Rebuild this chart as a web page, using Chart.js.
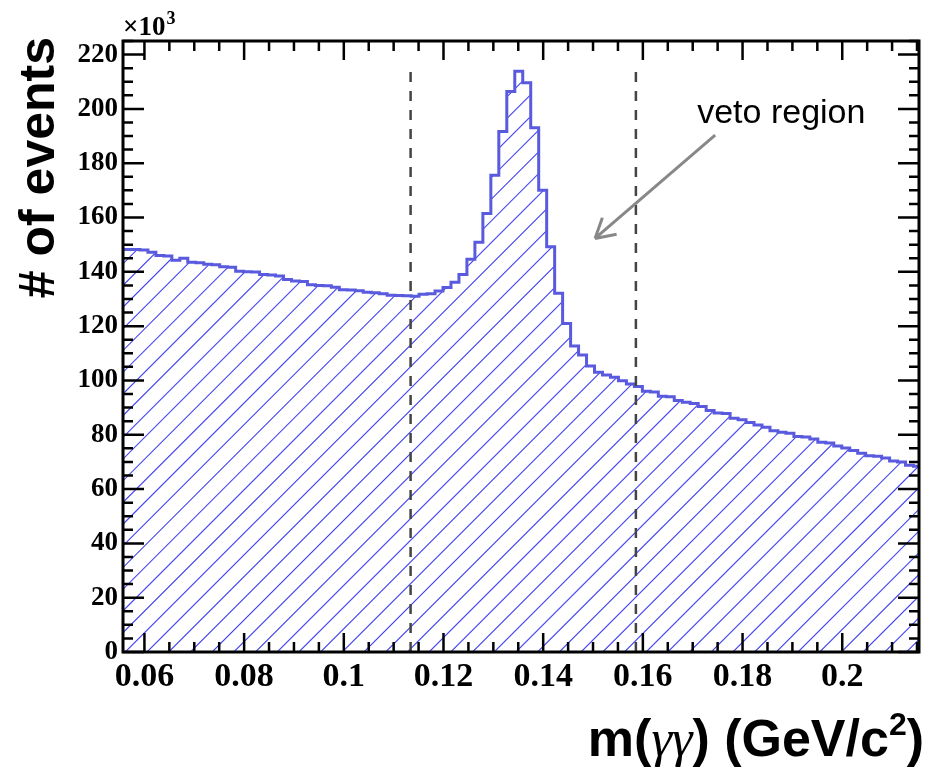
<!DOCTYPE html>
<html>
<head>
<meta charset="utf-8">
<script src="https://cdn.jsdelivr.net/npm/chart.js@4.4.0/dist/chart.umd.min.js"></script>
<style>
body { margin: 0; background: #fff; }
#wrap { width: 926px; height: 768px; }
</style>
</head>
<body>
<div id="wrap"><canvas id="massChart"></canvas></div>
<script>
// histogram binning in m(gg), GeV/c^2
const binStart = 0.0559;
const binWidth = 0.0016;
// entries per bin, units of 10^3
const counts = [
  148.2, 148.2, 148.0, 147.2, 146.0, 145.8, 144.3, 145.0, 143.5, 143.3,
  142.8, 142.6, 141.9, 141.7, 140.2, 140.0, 139.9, 139.0, 138.8, 138.5,
  137.2, 136.6, 136.4, 135.2, 135.0, 134.9, 134.3, 133.4, 133.3, 133.0,
  132.5, 132.3, 131.9, 131.4, 131.3, 131.2, 131.0, 131.7, 131.9, 132.9,
  134.2, 136.2, 139.0, 144.6, 150.9, 161.5, 175.6, 191.7, 206.4, 213.9,
  209.6, 193.1, 170.0, 149.2, 132.1, 121.0, 112.7, 109.4, 105.3, 103.0,
  102.0, 101.2, 99.9, 98.7, 97.8, 96.0, 95.7, 94.2, 94.0, 92.6,
  92.0, 91.5, 90.4, 88.9, 88.0, 87.8, 86.1, 85.5, 84.5, 83.6,
  82.8, 81.5, 80.9, 80.6, 79.4, 79.2, 78.4, 77.2, 77.0, 75.9,
  75.1, 74.2, 73.2, 72.3, 72.1, 71.4, 70.3, 70.0, 68.8, 68.4
];
const vetoEdges = [0.1134, 0.1586];
const vetoTop = 214;
const xTicks = [0.06, 0.08, 0.1, 0.12, 0.14, 0.16, 0.18, 0.2];
const yTicks = [0, 20, 40, 60, 80, 100, 120, 140, 160, 180, 200, 220];
const vetoLabel = 'veto region';

// step outline: one point per bin low edge plus the last high edge
const histPoints = counts.map((c, i) => ({ x: binStart + i * binWidth, y: c }));
histPoints.push({ x: binStart + counts.length * binWidth, y: counts[counts.length - 1] });

const serif = "'Liberation Serif', 'Times New Roman', serif";
const sans = "'Liberation Sans', Arial, Helvetica, sans-serif";
const histColor = '#5a5ade';

// ROOT style hatch (fill style 3004 like) under the histogram
const hatchFill = {
  id: 'hatchFill',
  beforeDatasetsDraw(chart) {
    const { ctx, chartArea: a, scales: { x, y } } = chart;
    ctx.save();
    ctx.beginPath();
    ctx.rect(a.left, a.top, a.right - a.left, a.bottom - a.top);
    ctx.clip();
    ctx.beginPath();
    ctx.moveTo(x.getPixelForValue(histPoints[0].x), y.getPixelForValue(0));
    for (let i = 0; i < counts.length; i++) {
      const py = y.getPixelForValue(counts[i]);
      ctx.lineTo(x.getPixelForValue(histPoints[i].x), py);
      ctx.lineTo(x.getPixelForValue(histPoints[i + 1].x), py);
    }
    ctx.lineTo(x.getPixelForValue(histPoints[counts.length].x), y.getPixelForValue(0));
    ctx.closePath();
    ctx.clip();
    ctx.strokeStyle = '#4646f2';
    ctx.lineWidth = 1.1;
    ctx.beginPath();
    const h = a.bottom - a.top;
    for (let sx = a.left + 24 - 21.7 * 40; sx < a.right; sx += 21.7) {
      ctx.moveTo(sx, a.bottom);
      ctx.lineTo(sx + h, a.top);
    }
    ctx.stroke();
    ctx.restore();
  }
};

const rootStyle = {
  id: 'rootStyle',
  afterDraw(chart) {
    const { ctx, chartArea: a, scales: { x, y } } = chart;
    ctx.save();
    ctx.strokeStyle = '#000';
    ctx.lineWidth = 2.5;
    ctx.beginPath();
    // inner ticks on all four sides
    for (let i = Math.ceil(x.min / 0.005); i * 0.005 <= x.max; i++) {
      const v = i * 0.005;
      const px = x.getPixelForValue(v);
      const len = xTicks.some(t => Math.abs(t - v) < 1e-6) ? 19 : 10;
      ctx.moveTo(px, a.bottom); ctx.lineTo(px, a.bottom - len);
      ctx.moveTo(px, a.top); ctx.lineTo(px, a.top + len);
    }
    for (let v = 0; v <= y.max; v += 5) {
      const py = y.getPixelForValue(v);
      const len = v % 20 === 0 ? 21 : 10;
      ctx.moveTo(a.left, py); ctx.lineTo(a.left + len, py);
      ctx.moveTo(a.right, py); ctx.lineTo(a.right - len, py);
    }
    ctx.stroke();
    ctx.lineWidth = 3;
    ctx.strokeRect(a.left, a.top, a.right - a.left, a.bottom - a.top);

    // x10^3 multiplier
    ctx.fillStyle = '#000';
    ctx.textBaseline = 'alphabetic';
    ctx.textAlign = 'left';
    ctx.font = 'bold 27px ' + serif;
    ctx.fillText('\u00d710', a.left, 35);
    const w10 = ctx.measureText('\u00d710').width;
    ctx.font = 'bold 18px ' + serif;
    ctx.fillText('3', a.left + w10 + 1, 24);

    // y title
    ctx.save();
    ctx.translate(54, 37);
    ctx.rotate(-Math.PI / 2);
    ctx.textAlign = 'right';
    ctx.font = 'bold 50px ' + sans;
    ctx.fillText('# of events', 0, 0);
    ctx.restore();

    // x title with mixed fonts
    const parts = [
      { t: 'm(', f: 'bold 52px ' + sans, dy: 0 },
      { t: '\u03b3\u03b3', f: 'italic 52px ' + serif, dy: 0 },
      { t: ') (GeV/c', f: 'bold 52px ' + sans, dy: 0 },
      { t: '2', f: 'bold 32px ' + sans, dy: -21 },
      { t: ')', f: 'bold 52px ' + sans, dy: 0 }
    ];
    let total = 0;
    parts.forEach(p => { ctx.font = p.f; p.w = ctx.measureText(p.t).width; total += p.w; });
    let cx = 924 - total;
    parts.forEach(p => { ctx.font = p.f; ctx.fillText(p.t, cx, 756 + p.dy); cx += p.w; });

    // veto region label and arrow
    ctx.font = '34px ' + sans;
    ctx.fillText(vetoLabel, x.getPixelForValue(0.1709), y.getPixelForValue(194.8));
    const x0 = x.getPixelForValue(0.1745), y0 = y.getPixelForValue(190.3);
    const x1 = x.getPixelForValue(0.1504), y1 = y.getPixelForValue(152.3);
    const ang = Math.atan2(y0 - y1, x0 - x1);
    ctx.strokeStyle = '#888';
    ctx.lineWidth = 3;
    ctx.beginPath();
    ctx.moveTo(x0, y0); ctx.lineTo(x1, y1);
    for (const d of [-0.52, 0.52]) {
      ctx.moveTo(x1, y1);
      ctx.lineTo(x1 + 22 * Math.cos(ang + d), y1 + 22 * Math.sin(ang + d));
    }
    ctx.stroke();
    ctx.restore();
  }
};

const ctx = document.getElementById('massChart').getContext('2d');
const massChart = new Chart(ctx, {
  type: 'line',
  data: {
    datasets: [
      ...vetoEdges.map(v => ({
        data: [{ x: v, y: 0 }, { x: v, y: vetoTop }],
        borderColor: '#444',
        borderWidth: 2.5,
        borderDash: [10, 9],
        pointRadius: 0,
        fill: false,
        order: 1
      })),
      {
        data: histPoints,
        stepped: true,
        borderColor: histColor,
        borderWidth: 3,
        fill: false,
        pointRadius: 0,
        order: 2
      }
    ]
  },
  options: {
    responsive: true,
    maintainAspectRatio: false,
    animation: false,
    layout: { padding: { left: 0, top: 41, right: 7, bottom: 0 } },
    plugins: { legend: { display: false }, tooltip: { enabled: false } },
    scales: {
      x: {
        type: 'linear',
        min: 0.0557,
        max: 0.2154,
        grid: { display: false, drawTicks: false },
        border: { display: false },
        afterBuildTicks: s => { s.ticks = xTicks.map(v => ({ value: v })); },
        afterFit: s => { s.height = 116; },
        ticks: {
          autoSkip: false,
          maxRotation: 0,
          padding: 5,
          color: '#000',
          font: { family: serif, size: 34, weight: 'bold' },
          callback: v => String(+v.toFixed(3))
        }
      },
      y: {
        min: 0,
        max: 225,
        grid: { display: false, drawTicks: false },
        border: { display: false },
        afterBuildTicks: s => { s.ticks = yTicks.map(v => ({ value: v })); },
        afterFit: s => { s.width = 123; },
        ticks: {
          autoSkip: false,
          padding: 5,
          color: '#000',
          font: { family: serif, size: 27, weight: 'bold' }
        }
      }
    }
  },
  plugins: [hatchFill, rootStyle]
});
</script>
</body>
</html>
